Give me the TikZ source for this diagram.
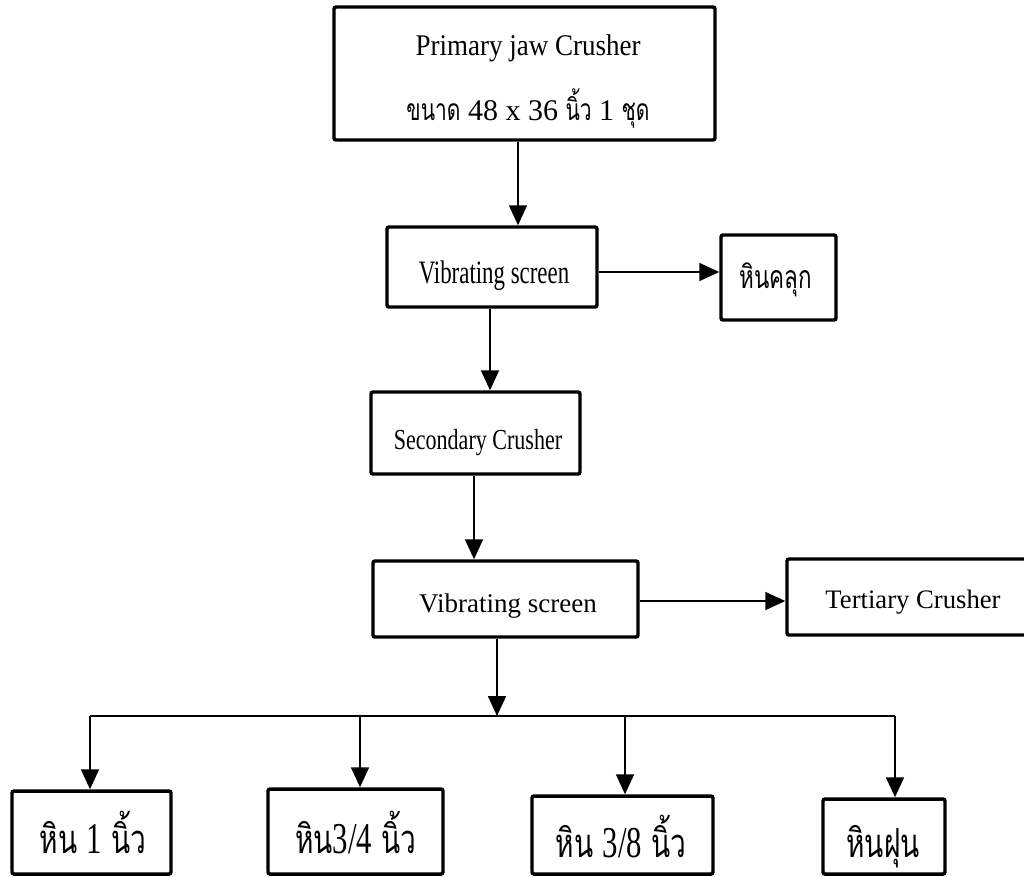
\documentclass[tikz,border=0pt]{standalone}
\usepackage{fontspec}
\setmainfont{Liberation Serif}
\newfontfamily\serA[FakeStretch=0.9]{Liberation Serif}
\newfontfamily\serB[FakeStretch=0.7]{Liberation Serif}
\newfontfamily\serC[FakeStretch=0.76]{Liberation Serif}
\newfontfamily\thaiA[Script=Thai,FakeStretch=0.7]{Loma}
\newcommand\dg[1]{{\serB\fontsize{33pt}{38pt}\selectfont #1}}
\usetikzlibrary{arrows.meta}
\begin{document}
\begin{tikzpicture}[x=0.75pt,y=-0.75pt,
  box/.style={draw, line width=2.6pt, rounded corners=1.5pt, inner sep=0pt},
  bx/.style 2 args={minimum width=#1*0.75pt, minimum height=#2*0.75pt},
  conn/.style={line width=1.3pt},
  arr/.style={conn, -{Triangle[length=15pt,width=13.5pt]}},
  txt/.style={inner sep=0pt, anchor=base}]
\useasboundingbox (0,0) rectangle (1024,876);
% boxes
\node[box, bx={381}{133}] (P)  at (524.5,73.5) {};
\node[box, bx={210}{80}]  (V1) at (492,267) {};
\node[box, bx={115}{85}]  (K)  at (778.5,277.5) {};
\node[box, bx={209}{82}]  (S)  at (475.5,433) {};
\node[box, bx={265}{76}]  (V2) at (505.5,599) {};
\node[box, bx={241}{76}]  (T)  at (907.5,597) {};
\node[box, bx={159}{83}]  (B1) at (91.5,832.5) {};
\node[box, bx={175}{85}]  (B2) at (355.5,831.5) {};
\node[box, bx={181}{78}]  (B3) at (622.5,835) {};
\node[box, bx={122}{75}]  (B4) at (884,836.5) {};
% texts
\node[txt, font=\serA\fontsize{22.5pt}{27pt}\selectfont] (Pt1) at (528,55) {Primary jaw Crusher};
\node[txt, font=\fontsize{22.5pt}{27pt}\selectfont] (Pt2) at (528,120) {{\thaiA ขนาด} 48 x 36 {\thaiA นิ้ว} 1 {\thaiA ชุด}};
\node[txt, font=\serB\fontsize{24.5pt}{29pt}\selectfont] (V1t) at (494,283) {Vibrating screen};
\node[txt, font=\thaiA\fontsize{24pt}{29pt}\selectfont] (Kt) at (776,288) {หินคลุก};
\node[txt, font=\serC\fontsize{21.75pt}{26pt}\selectfont] (St) at (478,449) {Secondary Crusher};
\node[txt, font=\fontsize{20.25pt}{24pt}\selectfont] (V2t) at (508,612) {Vibrating screen};
\node[txt, font=\fontsize{20pt}{24pt}\selectfont] (Tt) at (913,608) {Tertiary Crusher};
\node[txt, font=\thaiA\fontsize{30pt}{36pt}\selectfont] (B1t) at (93,853) {หิน \dg{1} นิ้ว};
\node[txt, font=\thaiA\fontsize{30pt}{36pt}\selectfont] (B2t) at (356,853) {หิน\dg{3/4} นิ้ว};
\node[txt, font=\thaiA\fontsize{30pt}{36pt}\selectfont] (B3t) at (621,857) {หิน \dg{3/8} นิ้ว};
\node[txt, font=\thaiA\fontsize{30pt}{36pt}\selectfont] (B4t) at (883,857) {หินฝุน};
% connectors
\draw[arr] (P.south -| 518,0) -- (V1.north -| 518,0);
\draw[arr] (V1.east |- 0,272) -- (K.west |- 0,272);
\draw[arr] (V1.south -| 490,0) -- (S.north -| 490,0);
\draw[arr] (S.south -| 474,0) -- (V2.north -| 474,0);
\draw[arr] (V2.east |- 0,601) -- (T.west |- 0,601);
\coordinate (J) at (497,716);
\coordinate (HL) at (90,716);
\coordinate (HR) at (895,716);
\draw[arr] (V2.south -| J) -- (J);
\draw[conn] (HL) -- (HR);
\draw[arr] (HL) -- (B1.north -| HL);
\draw[arr] (360,716) -- (B2.north -| 360,0);
\draw[arr] (625,716) -- (B3.north -| 625,0);
\draw[arr] (HR) -- (B4.north -| HR);
\end{tikzpicture}
\end{document}
